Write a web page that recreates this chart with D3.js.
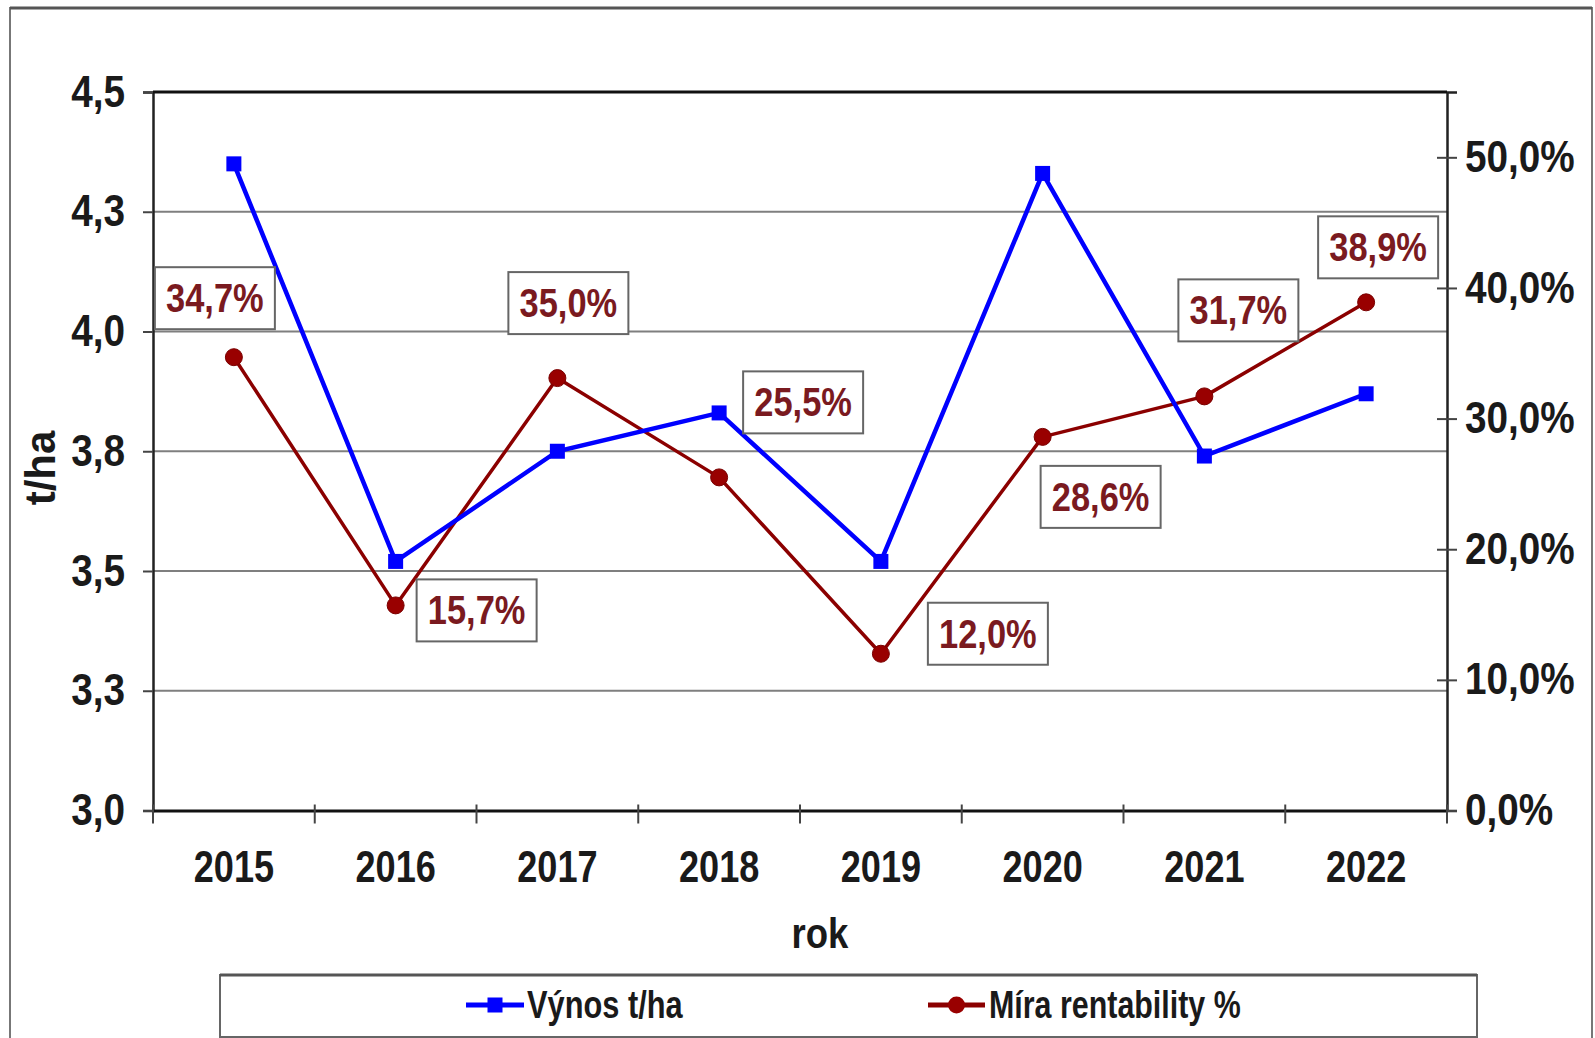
<!DOCTYPE html>
<html>
<head>
<meta charset="utf-8">
<script src="https://cdn.jsdelivr.net/npm/d3@7"></script>
<style>
  html, body { margin: 0; padding: 0; background: #fff; }
  svg { display: block; }
  text { font-family: "Liberation Sans Narrow", "Arial Narrow", "Liberation Sans", Arial, sans-serif; font-weight: bold; }
</style>
</head>
<body>
<svg id="chart" width="1595" height="1038"></svg>
<script>
// ---- data ----
const years = ["2015", "2016", "2017", "2018", "2019", "2020", "2021", "2022"];
const vynos = [4.35, 3.52, 3.75, 3.83, 3.52, 4.33, 3.74, 3.87];          // t/ha (left axis)
const rentabilita = [34.7, 15.7, 33.1, 25.5, 12.0, 28.6, 31.7, 38.9];    // % (right axis)
const rentLabels = ["34,7%", "15,7%", "35,0%", "25,5%", "12,0%", "28,6%", "31,7%", "38,9%"];
const leftTicks = [3.0, 3.25, 3.5, 3.75, 4.0, 4.25, 4.5];
const leftTickLabels = ["3,0", "3,3", "3,5", "3,8", "4,0", "4,3", "4,5"];
const rightTicks = [0, 10, 20, 30, 40, 50];
const rightTickLabels = ["0,0%", "10,0%", "20,0%", "30,0%", "40,0%", "50,0%"];
const seriesNames = ["Výnos t/ha", "Míra rentability %"];
const axisTitles = { y: "t/ha", x: "rok" };

// ---- layout (label box offsets from points, px) ----
const labelDx = [-19, 81, 11, 84, 107, 58, 34, 12];
const labelDy = [-59, 5, -75, -75, -20, 60, -86, -55];

const W = 1595, H = 1038;
const plot = { left: 153, right: 1447, top: 92, bottom: 810.5 };
const BLUE = "#0000ff", RED = "#8b0000", LABEL_RED = "#7a1a1f";
const FONT = '"Liberation Sans Narrow", "Arial Narrow", "Liberation Sans", Arial, sans-serif';

// horizontally condense text (the original uses a narrow face)
function condense(sel, k) {
  sel.each(function () {
    const len = this.getComputedTextLength();
    if (len > 0) d3.select(this).attr("textLength", len * k).attr("lengthAdjust", "spacingAndGlyphs");
  });
}

const svg = d3.select("#chart");
svg.append("rect").attr("width", W).attr("height", H).attr("fill", "#fff");

// outer frame
svg.append("rect").attr("x", 10).attr("y", 8).attr("width", 1582).attr("height", 1040)
  .attr("fill", "none").attr("stroke", "#777").attr("stroke-width", 2);
svg.append("line").attr("x1", 10).attr("x2", 1592).attr("y1", 8).attr("y2", 8)
  .attr("stroke", "#555").attr("stroke-width", 3);

const x = d3.scaleBand().domain(years).range([plot.left, plot.right]).padding(0);
const yL = d3.scaleLinear().domain([3.0, 4.5]).range([plot.bottom, plot.top]);
const yR = d3.scaleLinear().domain([0, 55]).range([plot.bottom, plot.top]);
const cx = d => x(d) + x.bandwidth() / 2;

// gridlines
svg.append("g").selectAll("line").data(leftTicks.filter(t => t > 3.0 && t < 4.5)).join("line")
  .attr("x1", plot.left).attr("x2", plot.right)
  .attr("y1", d => yL(d)).attr("y2", d => yL(d))
  .attr("stroke", "#7f7f7f").attr("stroke-width", 2);

// left axis
const gL = svg.append("g").attr("transform", `translate(${plot.left},0)`)
  .call(d3.axisLeft(yL).tickValues(leftTicks).tickFormat((d, i) => leftTickLabels[i]).tickSize(10).tickPadding(18));
gL.select(".domain").attr("stroke", "#222").attr("stroke-width", 2.5);
gL.selectAll(".tick line").attr("stroke", "#444").attr("stroke-width", 2);
gL.selectAll(".tick text").attr("font-size", 44).attr("fill", "#1a1a1a")
  .style("font-family", FONT).style("font-weight", "bold");
condense(gL.selectAll(".tick text"), 0.88);

// right axis
const gR = svg.append("g").attr("transform", `translate(${plot.right},0)`)
  .call(d3.axisRight(yR).tickValues(rightTicks).tickFormat((d, i) => rightTickLabels[i]).tickSize(10).tickPadding(8));
gR.select(".domain").attr("stroke", "#222").attr("stroke-width", 2.5);
gR.selectAll(".tick line").attr("x1", -10).attr("stroke", "#444").attr("stroke-width", 2);
gR.selectAll(".tick text").attr("font-size", 44).attr("fill", "#1a1a1a")
  .style("font-family", FONT).style("font-weight", "bold");
condense(gR.selectAll(".tick text"), 0.88);

// top border
svg.append("line").attr("x1", plot.left).attr("x2", plot.right).attr("y1", plot.top).attr("y2", plot.top)
  .attr("stroke", "#111").attr("stroke-width", 3);

// bottom axis
const gB = svg.append("g").attr("transform", `translate(0,${plot.bottom})`)
  .call(d3.axisBottom(x).tickSize(0).tickPadding(40));
gB.select(".domain").attr("stroke", "#111").attr("stroke-width", 3);
gB.selectAll(".tick text").attr("font-size", 44).attr("fill", "#1a1a1a")
  .style("font-family", FONT).style("font-weight", "bold");
condense(gB.selectAll(".tick text"), 0.82);
const bounds = years.map(d => x(d)).concat([x.range()[1]]);
svg.append("g").selectAll("line").data(bounds).join("line")
  .attr("x1", d => d).attr("x2", d => d)
  .attr("y1", plot.bottom - 6).attr("y2", plot.bottom + 13)
  .attr("stroke", "#444").attr("stroke-width", 2);

// axis titles
svg.append("text").attr("transform", `translate(40,468) rotate(-90)`)
  .attr("text-anchor", "middle").attr("dominant-baseline", "central")
  .attr("font-size", 42).attr("fill", "#1a1a1a").text(axisTitles.y);
const xt = svg.append("text").attr("x", 820).attr("y", 933)
  .attr("text-anchor", "middle").attr("dominant-baseline", "central")
  .attr("font-size", 43).attr("fill", "#1a1a1a").text(axisTitles.x);
condense(xt, 0.85);

// lines
const lineL = d3.line().x((d, i) => cx(years[i])).y(d => yL(d));
const lineR = d3.line().x((d, i) => cx(years[i])).y(d => yR(d));

svg.append("path").datum(rentabilita).attr("d", lineR)
  .attr("fill", "none").attr("stroke", RED).attr("stroke-width", 3.5).attr("stroke-linejoin", "round");
svg.append("g").selectAll("circle").data(rentabilita).join("circle")
  .attr("cx", (d, i) => cx(years[i])).attr("cy", d => yR(d)).attr("r", 8.5)
  .attr("fill", "#990000").attr("stroke", "#7a0000").attr("stroke-width", 1);

svg.append("path").datum(vynos).attr("d", lineL)
  .attr("fill", "none").attr("stroke", BLUE).attr("stroke-width", 4.5).attr("stroke-linejoin", "miter");
svg.append("g").selectAll("rect").data(vynos).join("rect")
  .attr("x", (d, i) => cx(years[i]) - 7.5).attr("y", d => yL(d) - 7.5)
  .attr("width", 15).attr("height", 15).attr("fill", BLUE);

// data labels
const bw = 120, bh = 62;
const lab = svg.append("g").selectAll("g").data(rentabilita).join("g")
  .attr("transform", (d, i) => `translate(${cx(years[i]) + labelDx[i]},${yR(d) + labelDy[i]})`);
lab.append("rect").attr("x", -bw / 2).attr("y", -bh / 2).attr("width", bw).attr("height", bh)
  .attr("fill", "#fff").attr("stroke", "#666").attr("stroke-width", 2);
const labT = lab.append("text").attr("text-anchor", "middle").attr("dominant-baseline", "central")
  .attr("font-size", 41).attr("fill", LABEL_RED).text((d, i) => rentLabels[i]);
condense(labT, 0.84);

// legend
const lg = svg.append("g");
lg.append("rect").attr("x", 220).attr("y", 975).attr("width", 1257).attr("height", 62)
  .attr("fill", "#fff").attr("stroke", "#666").attr("stroke-width", 2);
lg.append("line").attr("x1", 220).attr("x2", 1477).attr("y1", 975).attr("y2", 975)
  .attr("stroke", "#555").attr("stroke-width", 3);
const ly = 1005;
lg.append("line").attr("x1", 466).attr("x2", 524).attr("y1", ly).attr("y2", ly)
  .attr("stroke", BLUE).attr("stroke-width", 5);
lg.append("rect").attr("x", 495 - 7.5).attr("y", ly - 7.5).attr("width", 15).attr("height", 15).attr("fill", BLUE);
const lt1 = lg.append("text").attr("x", 527).attr("y", ly).attr("dominant-baseline", "central")
  .attr("font-size", 38).attr("fill", "#1a1a1a").text(seriesNames[0]);
lg.append("line").attr("x1", 928).attr("x2", 985).attr("y1", ly).attr("y2", ly)
  .attr("stroke", RED).attr("stroke-width", 5);
lg.append("circle").attr("cx", 956.5).attr("cy", ly).attr("r", 8.5).attr("fill", "#990000");
const lt2 = lg.append("text").attr("x", 989).attr("y", ly).attr("dominant-baseline", "central")
  .attr("font-size", 38).attr("fill", "#1a1a1a").text(seriesNames[1]);
condense(lt1, 0.81);
condense(lt2, 0.80);
</script>
</body>
</html>
